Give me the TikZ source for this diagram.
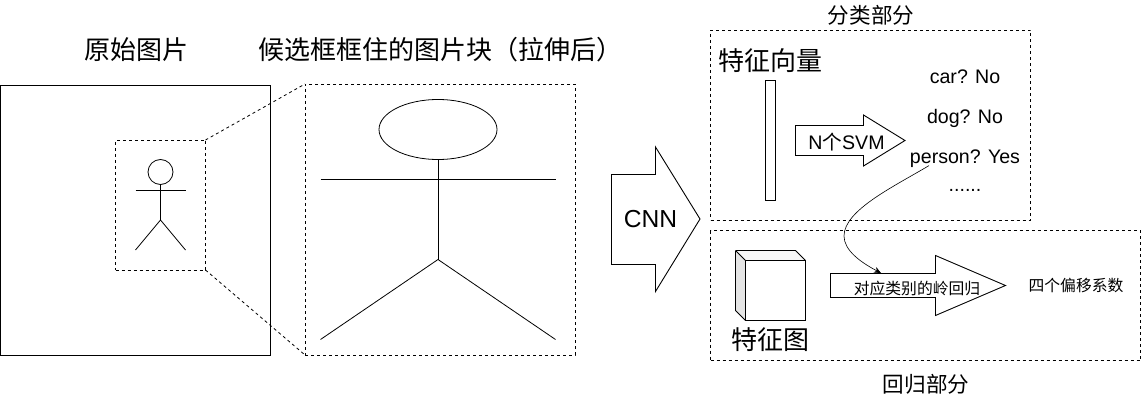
\documentclass[tikz,border=0pt]{standalone}
\usepackage{fontspec}
\setmainfont{Liberation Sans}
\newfontfamily\cjk{Noto Sans CJK SC}
\usetikzlibrary{arrows.meta,shapes.geometric}
\tikzset{
  box/.style={draw, inner sep=0pt, outer sep=0pt, line width=0.9pt},
  dashbox/.style={box, dash pattern=on 3pt off 3pt},
  dashlink/.style={line width=0.8pt, dash pattern=on 3pt off 3pt},
  figure/.style={line width=0.8pt},
  arrowbox/.style={line width=0.9pt, line join=miter},
  lab/.style={inner sep=0pt, font=\fontsize{19.6}{22}\selectfont},
  title/.style={inner sep=0pt, font=\fontsize{26}{28}\cjk},
  part/.style={inner sep=0pt, font=\fontsize{21.6}{24}\cjk},
  small/.style={inner sep=0pt, font=\fontsize{15.8}{18}\cjk},
}
\begin{document}
\begin{tikzpicture}[x=1pt, y=-1pt]
\useasboundingbox (0,0) rectangle (1141,401);
% left part
\node[title] (origtitle) at (136,50) {原始图片};
\node[title] (croptitle) at (440,50) {候选框框住的图片块（拉伸后）};
\node[box, minimum width=270pt, minimum height=270pt] (origbox) at (135.5,220.5) {};
\node[dashbox, minimum width=90pt, minimum height=130pt] (cropbox) at (160.5,205) {};
\node[dashbox, minimum width=270pt, minimum height=271pt] (bigbox) at (440,219.5) {};
\draw[dashlink] (cropbox.north east) -- (bigbox.north west);
\draw[dashlink] (cropbox.south east) -- (bigbox.south west);
% small person
\node[draw, figure, circle, minimum size=25pt, inner sep=0pt] (smallhead) at (160.5,172) {};
\draw[figure] (135.5,190) -- (185.5,190);
\coordinate (smallhip) at (160.5,220);
\draw[figure] (smallhead) -- (smallhip);
\draw[figure] (135.5,250) -- (smallhip) -- (185.5,250);
% big person
\node[draw, figure, ellipse, minimum width=118pt, minimum height=60pt, inner sep=0pt] (bighead) at (438,129.5) {};
\draw[figure] (320.5,179.5) -- (555.5,179.5);
\coordinate (bighip) at (438,259.5);
\draw[figure] (bighead) -- (bighip);
\draw[figure] (320.5,339.5) -- (bighip) -- (555.5,339.5);
% cnn
\draw[arrowbox] (611.5,174.5) -- (655.5,174.5) -- (655.5,147) -- (700,219) -- (655.5,291.5) -- (655.5,264.5) -- (611.5,264.5) -- cycle;
\node[lab, font=\fontsize{24.6}{26}\selectfont] (cnnlabel) at (650.5,219) {CNN};
% classify part
\node[part] (classtitle) at (871,15) {分类部分};
\node[dashbox, minimum width=320pt, minimum height=190pt] (classbox) at (870.5,125) {};
\node[title] (vectitle) at (770.5,61) {特征向量};
\node[box, minimum width=10.5pt, minimum height=120pt] (vecbar) at (770.5,140.5) {};
\draw[arrowbox] (795.5,125.5) -- (863.5,125.5) -- (863.5,115) -- (905,140.5) -- (863.5,166) -- (863.5,155.5) -- (795.5,155.5) -- cycle;
\node[lab] (svmlabel) at (846.5,142) {N{\cjk 个}SVM};
\node[lab] (car) at (965,77) {car? No};
\node[lab] (dog) at (965,118) {dog? No};
\node[lab] (person) at (965,158.5) {person? Yes};
\node[lab] (dots) at (965,190) {......};
% regress part
\node[dashbox, minimum width=430pt, minimum height=130pt] (regbox) at (925.5,295.5) {};
\node[part] (regtitle) at (926,384) {回归部分};
\fill[gray!20] (735.5,250.5) -- (745.5,260.5) -- (745.5,320.5) -- (735.5,310.5) -- cycle;
\fill[gray!6] (735.5,250.5) -- (795.5,250.5) -- (805.5,260.5) -- (745.5,260.5) -- cycle;
\node[box, minimum width=60pt, minimum height=60pt] (cubefront) at (775.5,290.5) {};
\draw[box] (735.5,250.5) -- (795.5,250.5) -- (cubefront.north east) (735.5,250.5) -- (cubefront.north west) (735.5,250.5) -- (735.5,310.5) -- (cubefront.south west);
\node[title] (maptitle) at (770,339.5) {特征图};
\draw[arrowbox] (830.5,273.5) -- (935.5,273.5) -- (935.5,255.5) -- (1005.5,285.5) -- (935.5,315.5) -- (935.5,297.5) -- (830.5,297.5) -- cycle;
\node[small] (ridgelabel) at (917,288) {对应类别的岭回归};
\node[small] (coeflabel) at (1076,286) {四个偏移系数};
\coordinate (ridgetop) at (881,273);
\draw[-{Stealth[length=7pt, width=6pt]}, line width=0.6pt] ([xshift=-36pt,yshift=2pt]person.south) .. controls (895,186) and (844,210) .. (844,236) .. controls (844,250) and (860,262) .. (ridgetop);
\end{tikzpicture}
\end{document}
